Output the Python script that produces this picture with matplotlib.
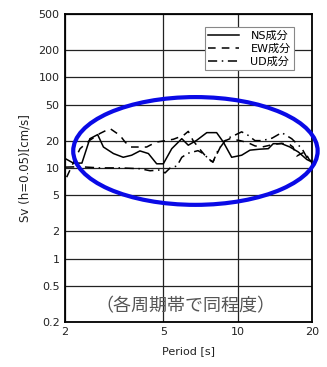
import matplotlib
matplotlib.use('Agg')
import matplotlib.pyplot as plt
from matplotlib.patches import Ellipse

plt.rcParams['font.family'] = ['DejaVu Sans', 'Noto Sans CJK JP']

# NS component (solid)
ns_period = [2.0, 2.16, 2.34, 2.52, 2.71, 2.86, 3.14, 3.44, 3.72, 4.02, 4.35, 4.70, 5.0,
             5.41, 5.94, 6.31, 6.83, 7.50, 8.22, 8.75, 9.46, 10.38, 11.22, 12.31, 13.31,
             13.94, 15.08, 16.29, 17.6, 19.05, 20.0]
ns_sv = [12.7, 11.3, 11.3, 21.0, 23.3, 17.0, 14.4, 13.1, 13.8, 15.4, 14.4, 11.1, 11.1,
         16.3, 21.0, 17.8, 20.2, 24.5, 24.5, 19.3, 13.1, 13.8, 15.7, 16.1, 16.3,
         18.5, 18.5, 17.0, 15.0, 12.4, 11.6]

# EW component (dashed)
ew_period = [2.03, 2.20, 2.30, 2.52, 2.77, 3.04, 3.34, 3.50, 3.67, 3.96, 4.28, 4.42, 4.70,
             5.0, 5.49, 6.03, 6.31, 6.60, 7.04, 7.50, 7.94, 8.32, 8.73, 9.31, 10.22, 11.0,
             11.75, 12.55, 13.78, 15.08, 16.29, 16.76, 17.34, 18.22, 18.74, 19.45, 20.0]
ew_sv = [7.9, 12.7, 16.3, 20.2, 24.0, 27.2, 22.8, 19.3, 17.0, 17.0, 17.0, 17.8, 19.3,
         19.8, 20.7, 22.8, 25.3, 20.0, 16.0, 13.0, 11.6, 15.0, 19.5, 21.0, 20.0, 19.0,
         17.5, 17.0, 18.0, 18.7, 18.0, 17.0, 13.5, 14.5, 15.0, 12.5, 11.6]

# UD component (dash-dot)
ud_period = [2.0, 2.30, 2.77, 3.34, 4.02, 4.42, 4.85, 5.08, 5.33, 5.68, 5.94, 6.29, 6.91,
             7.38, 7.59, 7.94, 8.32, 9.03, 9.75, 10.38, 11.0, 11.75, 12.55, 13.79, 15.08,
             16.56, 18.23, 19.05, 19.95]
ud_sv = [10.2, 10.3, 10.0, 10.0, 9.8, 9.3, 9.5, 8.8, 10.0, 10.5, 13.1, 14.5, 15.5,
         14.0, 12.5, 11.6, 15.6, 21.0, 23.0, 25.0, 23.0, 20.0, 20.0, 21.3, 24.5,
         21.0, 16.3, 13.1, 11.6]

x_ticks = [2, 5, 10, 20]
y_ticks = [0.2, 0.5, 1, 2, 5, 10, 20, 50, 100, 200, 500]
legend_labels = ['NS成分', 'EW成分', 'UD成分']
note = '（各周期帯で同程度）'

fig = plt.figure(figsize=(3.27, 3.67), dpi=100)
ax = fig.add_axes([0.199, 0.123, 0.755, 0.839])

ax.plot(ns_period, ns_sv, color='black', lw=1.1, ls='-', label=legend_labels[0])
ax.plot(ew_period, ew_sv, color='black', lw=1.1, ls=(0, (5, 4)), label=legend_labels[1])
ax.plot(ud_period, ud_sv, color='black', lw=1.1, ls=(0, (6, 3, 1, 3)), label=legend_labels[2])

ax.set_xscale('log')
ax.set_yscale('log')
ax.set_xlim(2, 20)
ax.set_ylim(0.2, 500)
ax.set_xticks(x_ticks)
ax.set_xticklabels([str(t) for t in x_ticks])
ax.set_yticks(y_ticks)
ax.set_yticklabels([str(t) for t in y_ticks])
ax.minorticks_off()
ax.tick_params(length=0, pad=4, labelsize=8, labelcolor='#222222')
ax.grid(True, which='major', color='#222222', lw=0.9)
for s in ax.spines.values():
    s.set_linewidth(1.3)

ax.set_xlabel('Period [s]', fontsize=8, color='#222222', labelpad=6)
ax.set_ylabel('Sv (h=0.05)[cm/s]', fontsize=8.5, color='#222222', labelpad=5)

leg = ax.legend(loc='upper right', bbox_to_anchor=(0.95, 0.975), fontsize=8,
                fancybox=False, edgecolor='#888888', framealpha=1,
                handlelength=2.8, borderpad=0.3, labelspacing=0.25, handletextpad=1.0)
leg.get_frame().set_linewidth(0.8)

ell = Ellipse((0.528, 0.555), 0.99, 0.35, transform=ax.transAxes, fill=False,
              edgecolor='#0a0ae6', lw=3, clip_on=False, zorder=5)
ax.add_patch(ell)

ax.text(0.488, 0.05, note, transform=ax.transAxes, ha='center', va='center',
        fontsize=13, color='#555555', family=['Noto Sans CJK JP'])

fig.savefig('out.png', dpi=100)
